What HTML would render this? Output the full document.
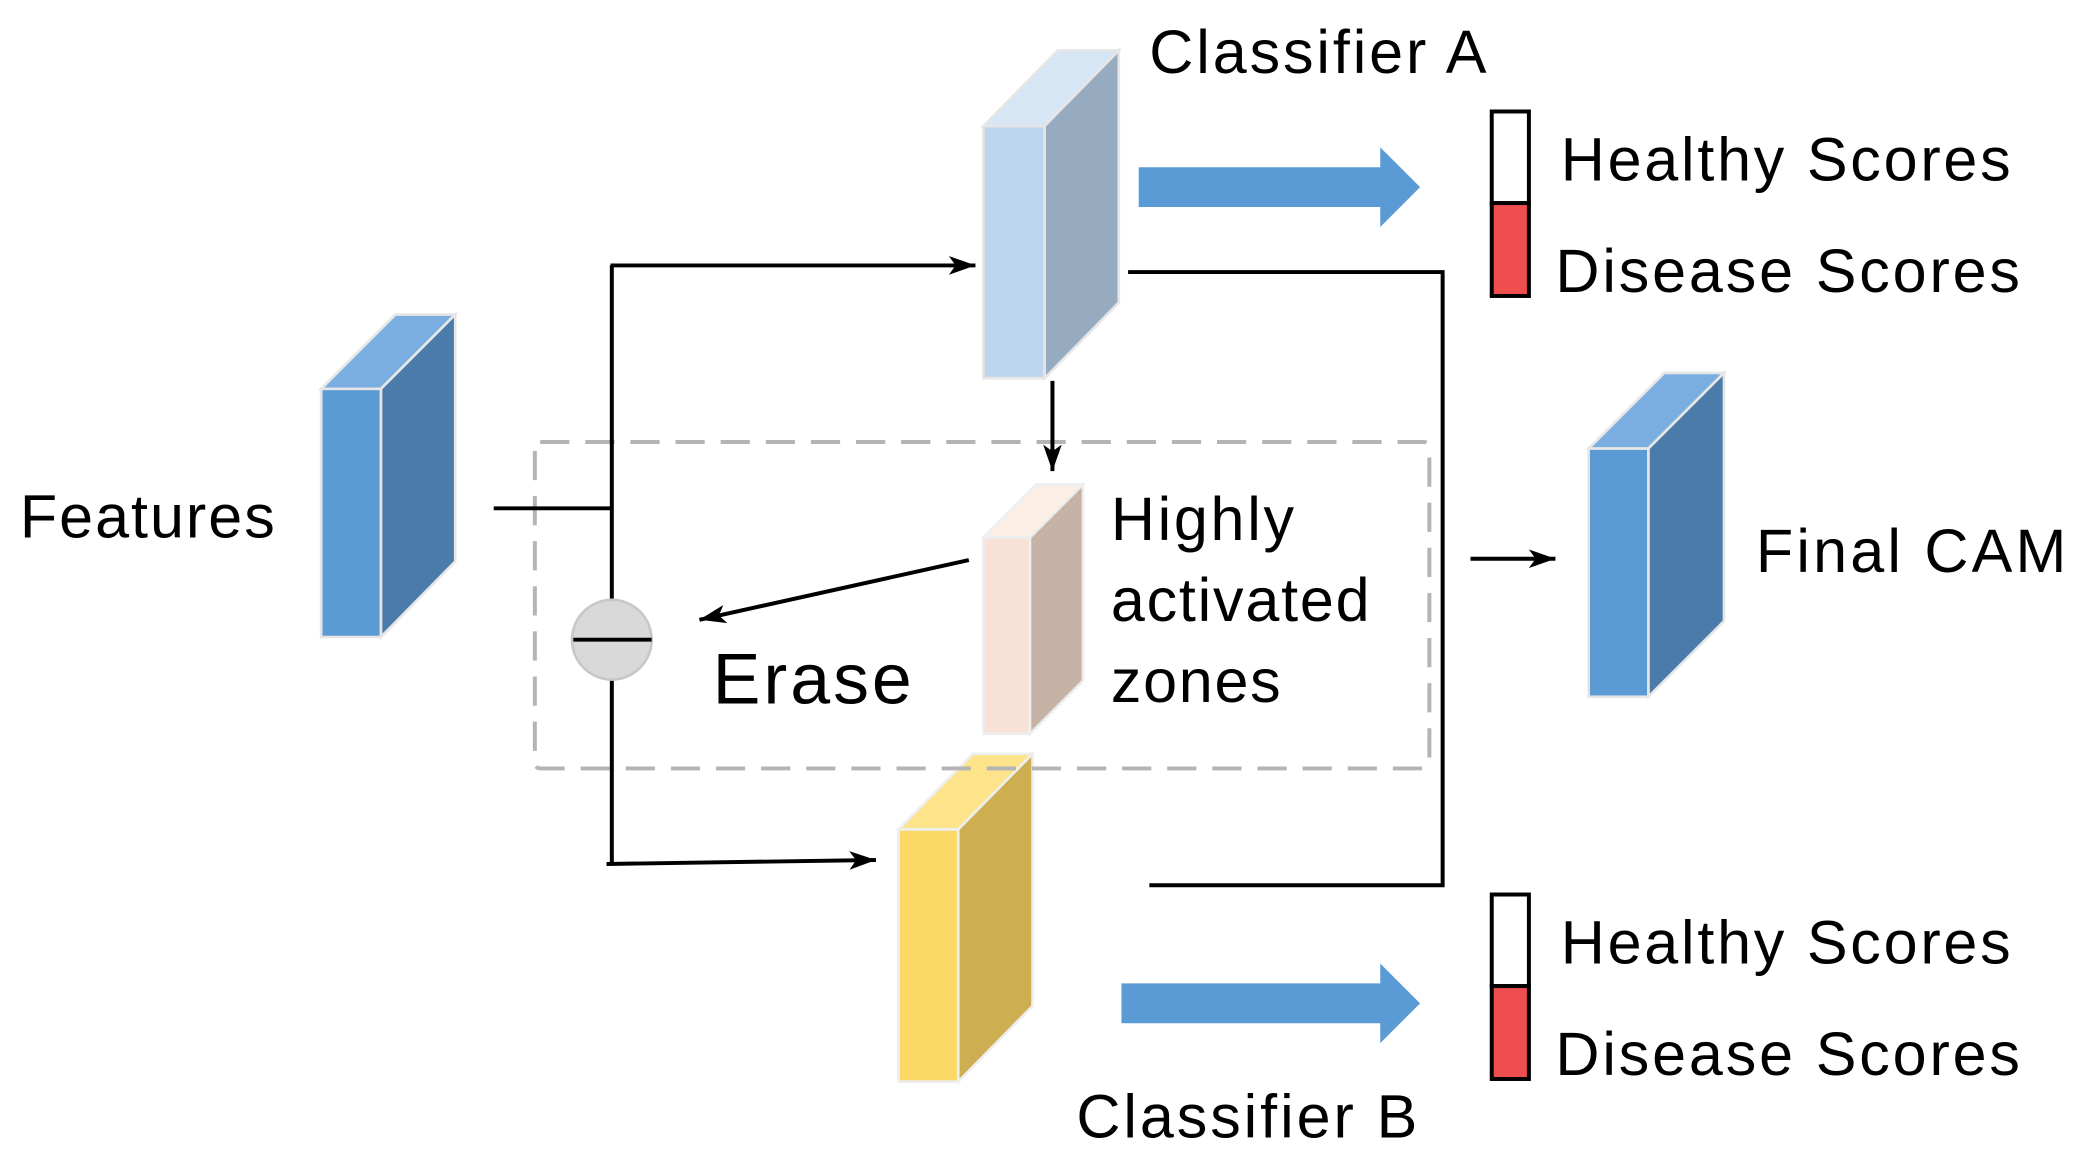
<!DOCTYPE html>
<html><head><style>html,body{margin:0;padding:0;background:#fff;}svg{display:block}</style></head>
<body>
<svg width="2081" height="1163" viewBox="0 0 1568 876.3" xmlns="http://www.w3.org/2000/svg" font-family="Liberation Sans, Arial, sans-serif">
<defs>
<marker id="ah2" markerWidth="22" markerHeight="16" refX="20" refY="8" orient="auto" markerUnits="userSpaceOnUse"><path d="M0,1 L20,8 L0,15 L5,8 z"/></marker>
</defs>
<g stroke="#e6e6e6" stroke-width="2">
<polygon points="242,293 298,237 343,237 287,293" fill="#7aaee0"/>
<polygon points="287,293 343,237 343,423 287,480" fill="#4a7bab"/>
<rect x="242" y="293" width="45" height="187" fill="#5b9bd5"/>
</g>
<g stroke="#e6e6e6" stroke-width="2">
<polygon points="741,95 797,38 843,38 787,95" fill="#d7e6f4"/>
<polygon points="787,95 843,38 843,228 787,285" fill="#97abc0"/>
<rect x="741" y="95" width="46" height="190" fill="#bcd6ee"/>
</g>
<g stroke="#eeeeee" stroke-width="2">
<polygon points="741,405 781,365 816,365 776,405" fill="#fbeee5"/>
<polygon points="776,405 816,365 816,513 776,553" fill="#c7b3a6"/>
<rect x="741" y="405" width="35" height="148" fill="#f8e2d5"/>
</g>
<g stroke="#eeeeee" stroke-width="2">
<polygon points="677,625 733,568 778,568 722,625" fill="#fde48a"/>
<polygon points="722,625 778,568 778,758 722,815" fill="#cdae50"/>
<rect x="677" y="625" width="45" height="190" fill="#fcd866"/>
</g>
<g stroke="#e6e6e6" stroke-width="2">
<polygon points="1197,338 1254,281 1299,281 1242,338" fill="#7aaee0"/>
<polygon points="1242,338 1299,281 1299,468 1242,525" fill="#4a7bab"/>
<rect x="1197" y="338" width="45" height="187" fill="#5b9bd5"/>
</g>
<rect x="403" y="333" width="674" height="246" rx="4" fill="none" stroke="#b4b4b4" stroke-width="3" stroke-dasharray="22,12"/>
<g stroke="#000" stroke-width="3" fill="none">
<line x1="372" y1="383" x2="461" y2="383"/>
<line x1="461" y1="200" x2="461" y2="452"/>
<line x1="461" y1="512" x2="461" y2="651"/>
<line x1="460" y1="200" x2="735" y2="200" marker-end="url(#ah2)"/>
<line x1="457" y1="651" x2="660" y2="648" marker-end="url(#ah2)"/>
<line x1="793" y1="287" x2="793" y2="355" marker-end="url(#ah2)"/>
<line x1="730" y1="422" x2="527" y2="467" marker-end="url(#ah2)"/>
<polyline points="850,205 1087,205 1087,667 866,667"/>
<line x1="1108" y1="421" x2="1172" y2="421" marker-end="url(#ah2)"/>
</g>
<circle cx="461" cy="482" r="30" fill="#d9d9d9" stroke="#c8c8c8" stroke-width="2"/>
<line x1="432" y1="482" x2="491" y2="482" stroke="#000" stroke-width="3"/>
<polygon points="858,126 1040,126 1040,111 1070,141 1040,171 1040,156 858,156" fill="#5b9bd5"/>
<polygon points="845,741 1040,741 1040,726 1070,756 1040,786 1040,771 845,771" fill="#5b9bd5"/>
<g stroke="#000" stroke-width="3">
<rect x="1124" y="84" width="28" height="69" fill="#fff"/>
<rect x="1124" y="153" width="28" height="70" fill="#f04e4e"/>
<rect x="1124" y="674" width="28" height="69" fill="#fff"/>
<rect x="1124" y="743" width="28" height="70" fill="#f04e4e"/>
</g>
<g font-size="46" fill="#000">
<text x="866" y="55" textLength="254">Classifier A</text>
<text x="1176" y="136" textLength="339">Healthy Scores</text>
<text x="1172" y="220" textLength="350">Disease Scores</text>
<text x="15" y="405" textLength="192">Features</text>
<text x="837" y="407" textLength="138">Highly</text>
<text x="837" y="468" textLength="195">activated</text>
<text x="837" y="529" textLength="128">zones</text>
<text x="537" y="530" font-size="54" textLength="150">Erase</text>
<text x="1323" y="431" textLength="234">Final CAM</text>
<text x="1176" y="726" textLength="339">Healthy Scores</text>
<text x="1172" y="810" textLength="350">Disease Scores</text>
<text x="811" y="857" textLength="257">Classifier B</text>
</g>
</svg>
</body></html>
